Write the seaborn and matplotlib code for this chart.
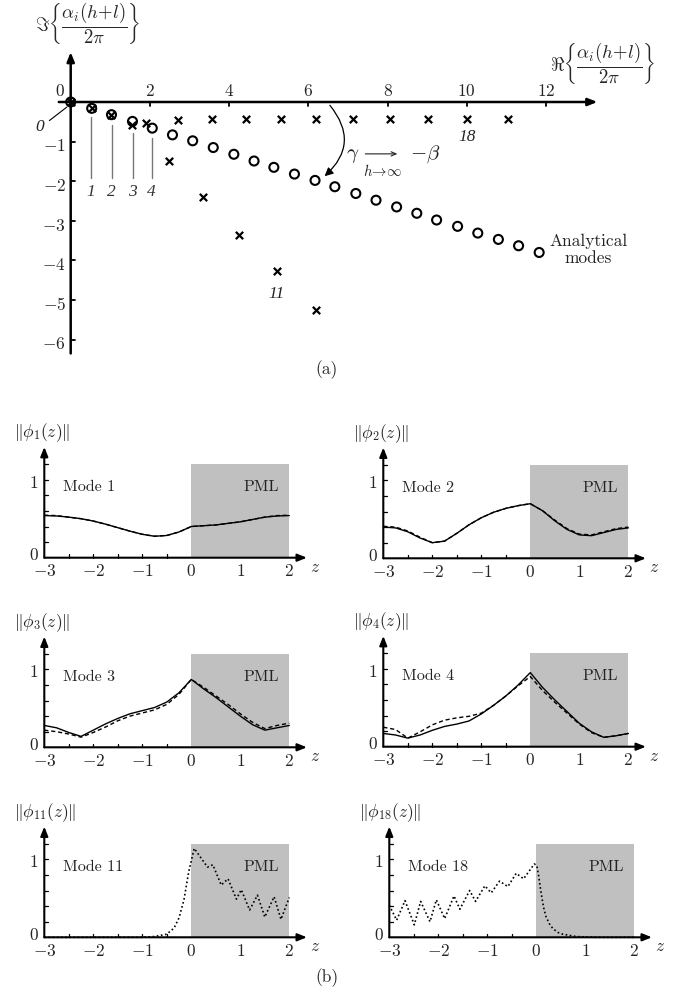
import numpy as np
import matplotlib
matplotlib.use("Agg")
import matplotlib.pyplot as plt
import seaborn as sns
from matplotlib.patches import FancyArrowPatch

# ---------------- (a) eigenvalue plane ----------------
analytic_re = [0.00, 0.53, 1.03, 1.56, 2.06, 2.57, 3.08, 3.60, 4.12, 4.63, 5.13, 5.65,
               6.17, 6.67, 7.20, 7.71, 8.23, 8.74, 9.24, 9.77, 10.28, 10.80, 11.31, 11.83]
analytic_im = [0.00, -0.16, -0.32, -0.49, -0.66, -0.83, -0.98, -1.15, -1.32, -1.49, -1.65, -1.82,
               -1.98, -2.14, -2.31, -2.48, -2.65, -2.81, -2.98, -3.14, -3.31, -3.47, -3.63, -3.80]
numeric_re = [0.00, 0.53, 1.03, 1.56, 1.89, 2.48, 2.72, 3.35, 3.57, 4.26, 4.42, 5.22,
              5.30, 6.19, 6.19, 7.12, 8.06, 9.02, 10.01, 11.04]
numeric_im = [0.00, -0.16, -0.32, -0.59, -0.53, -1.48, -0.45, -2.41, -0.43, -3.35, -0.43, -4.28,
              -0.42, -0.42, -5.26, -0.42, -0.42, -0.42, -0.42, -0.42]
re_ticks = [2, 4, 6, 8, 10, 12]
im_ticks = [-1, -2, -3, -4, -5, -6]
low_mode_labels = ["1", "2", "3", "4"]
low_mode_re = [0.52, 1.04, 1.57, 2.05]
low_mode_line_top = [-0.38, -0.58, -0.78, -0.91]

# ---------------- (b) mode profiles ----------------
z_grid = [-3.0, -2.75, -2.5, -2.25, -2.0, -1.75, -1.5, -1.25, -1.0, -0.75, -0.5, -0.25,
          0.0, 0.25, 0.5, 0.75, 1.0, 1.25, 1.5, 1.75, 2.0]
mode1_solid = [0.54, 0.535, 0.52, 0.50, 0.47, 0.43, 0.385, 0.34, 0.30, 0.275, 0.285, 0.33,
               0.40, 0.41, 0.42, 0.44, 0.46, 0.49, 0.52, 0.535, 0.54]
mode1_dashed = [0.545, 0.54, 0.52, 0.50, 0.47, 0.43, 0.385, 0.34, 0.30, 0.275, 0.285, 0.33,
                0.40, 0.41, 0.42, 0.44, 0.46, 0.49, 0.52, 0.54, 0.545]
mode2_solid = [0.40, 0.39, 0.34, 0.26, 0.20, 0.22, 0.32, 0.43, 0.52, 0.59, 0.64, 0.675,
               0.70, 0.61, 0.48, 0.37, 0.30, 0.29, 0.33, 0.37, 0.39]
mode2_dashed = [0.41, 0.40, 0.35, 0.27, 0.20, 0.22, 0.32, 0.43, 0.52, 0.59, 0.64, 0.675,
                0.70, 0.61, 0.49, 0.38, 0.31, 0.30, 0.34, 0.38, 0.40]
mode3_solid = [0.28, 0.25, 0.19, 0.14, 0.22, 0.30, 0.37, 0.43, 0.47, 0.51, 0.58, 0.70,
               0.87, 0.75, 0.64, 0.52, 0.40, 0.29, 0.22, 0.25, 0.28]
mode3_dashed = [0.22, 0.20, 0.17, 0.13, 0.19, 0.26, 0.34, 0.40, 0.44, 0.48, 0.55, 0.68,
                0.87, 0.77, 0.66, 0.55, 0.43, 0.32, 0.24, 0.28, 0.31]
mode4_solid = [0.17, 0.15, 0.11, 0.15, 0.21, 0.26, 0.29, 0.33, 0.42, 0.53, 0.65, 0.79,
               0.95, 0.76, 0.60, 0.45, 0.30, 0.19, 0.12, 0.14, 0.17]
mode4_dashed = [0.25, 0.22, 0.11, 0.19, 0.28, 0.34, 0.37, 0.39, 0.43, 0.53, 0.65, 0.78,
                0.90, 0.72, 0.57, 0.43, 0.29, 0.18, 0.12, 0.14, 0.17]
mode11_z = [-3.0, -2.0, -1.25, -1.0, -0.75, -0.5, -0.35, -0.25, -0.15, -0.05, 0.06, 0.33,
            0.44, 0.61, 0.75, 0.92, 1.02, 1.19, 1.35, 1.50, 1.69, 1.83, 2.0]
mode11_dotted = [0.0, 0.0, 0.0, 0.0, 0.01, 0.04, 0.12, 0.25, 0.48, 0.85, 1.14, 0.90,
                 0.93, 0.67, 0.75, 0.49, 0.61, 0.35, 0.54, 0.26, 0.52, 0.23, 0.51]
mode18_z = [-3.0, -2.85, -2.68, -2.49, -2.36, -2.17, -2.04, -1.87, -1.68, -1.56, -1.36, -1.24,
            -1.05, -0.92, -0.75, -0.58, -0.41, -0.26, -0.04, 0.01, 0.05, 0.10, 0.15, 0.20,
            0.27, 0.34, 0.45, 0.54, 0.81, 1.2, 2.0]
mode18_dotted = [0.41, 0.22, 0.47, 0.16, 0.46, 0.20, 0.48, 0.24, 0.53, 0.36, 0.60, 0.46,
                 0.66, 0.57, 0.72, 0.65, 0.82, 0.75, 0.94, 0.92, 0.78, 0.56, 0.38, 0.26,
                 0.17, 0.11, 0.06, 0.04, 0.01, 0.0, 0.0]
z_ticks = [-3, -2, -1, 0, 1, 2]

# ---------------- style ----------------
sns.set_style("white")
plt.rcParams["mathtext.fontset"] = "cm"
plt.rcParams["font.family"] = ["cmr10", "DejaVu Serif"]
plt.rcParams["axes.unicode_minus"] = False

W, H = 673, 999
fig = plt.figure(figsize=(W / 100, H / 100), dpi=100)
fig.patch.set_facecolor("white")


def make_axes(px0, py0, sx, sy, xlim, ylim):
    """Axes placed so that data (0, 0) lands on pixel (px0, py0)."""
    left = px0 + xlim[0] * sx
    right = px0 + xlim[1] * sx
    top = py0 - ylim[1] * sy
    bottom = py0 - ylim[0] * sy
    ax = fig.add_axes([left / W, 1 - bottom / H, (right - left) / W, (bottom - top) / H])
    ax.set_xlim(*xlim)
    ax.set_ylim(*ylim)
    ax.axis("off")
    return ax


ARW = dict(arrowstyle="-|>,head_length=0.55,head_width=0.22", color="black",
           shrinkA=0, shrinkB=0)

# ================= panel (a) =================
ax = make_axes(70.7, 102.0, 39.6, 39.6, (-1.5, 15.0), (-6.8, 2.5))
ax.annotate("", xy=(13.3, 0), xytext=(-0.3, 0), arrowprops=dict(ARW, lw=1.8))
ax.annotate("", xy=(0, 1.26), xytext=(0, -6.35), arrowprops=dict(ARW, lw=1.8))
for t in re_ticks:
    ax.plot([t, t], [0, -0.11], color="black", lw=1.3)
    ax.text(t, 0.28, f"${t}$", ha="center", va="center", fontsize=12.5)
ax.text(-0.27, 0.28, "$0$", ha="center", va="center", fontsize=12.5)
for t in im_ticks:
    ax.plot([0, 0.12], [t, t], color="black", lw=1.3)
    ax.text(-0.12, t - 0.12, f"$-{abs(t)}$", ha="right", va="center", fontsize=12.5)

sns.scatterplot(x=analytic_re, y=analytic_im, ax=ax, marker="o", s=42,
                facecolor="none", edgecolor="black", linewidth=1.5, zorder=4)
sns.scatterplot(x=numeric_re, y=numeric_im, ax=ax, marker="x", s=28,
                color="black", linewidth=1.6, zorder=5)

ax.text(-0.90, 1.97, r"$\Im\left\{\dfrac{\alpha_i(h\!+\!l)}{2\pi}\right\}$",
        ha="left", va="center", fontsize=13.5)
ax.text(12.1, 0.96, r"$\Re\left\{\dfrac{\alpha_i(h\!+\!l)}{2\pi}\right\}$",
        ha="left", va="center", fontsize=13.5)

# mode labels
ax.plot([-0.54, -0.1], [-0.47, -0.13], color="black", lw=0.8)
ax.text(-0.78, -0.63, "0", ha="center", va="center", fontsize=12.5,
        family="Liberation Serif", style="italic")
for lab, xr, ytop in zip(low_mode_labels, low_mode_re, low_mode_line_top):
    ax.plot([xr, xr], [ytop, -1.92], color="#777777", lw=1.0)
    ax.text(xr - 0.02, -2.27, lab, ha="center", va="center", fontsize=12.5,
            family="Liberation Serif", style="italic", color="#333333")
ax.text(5.20, -4.84, "11", ha="center", va="center", fontsize=12.5,
        family="Liberation Serif", style="italic")
ax.text(10.0, -0.89, "18", ha="center", va="center", fontsize=12.5,
        family="Liberation Serif", style="italic")

arc = FancyArrowPatch((6.5, -0.03), (6.36, -1.92), connectionstyle="arc3,rad=-0.5",
                      arrowstyle="-|>,head_length=5,head_width=2.5", lw=0.9, color="black")
ax.add_patch(arc)
# gamma -> -beta (limit h -> infinity)
ax.text(7.12, -1.36, r"$\gamma$", ha="center", va="center", fontsize=15, color="#222222")
ax.annotate("", xy=(8.25, -1.31), xytext=(7.44, -1.31),
            arrowprops=dict(arrowstyle="->,head_length=0.35,head_width=0.15",
                            lw=0.8, color="#222222", shrinkA=0, shrinkB=0))
ax.text(7.88, -1.74, r"$h\!\to\!\infty$", ha="center", va="center", fontsize=10.5,
        color="#222222")
ax.text(8.95, -1.31, r"$-\beta$", ha="center", va="center", fontsize=15, color="#222222")
ax.text(13.07, -3.74, "Analytical\nmodes", ha="center", va="center", fontsize=12.5,
        multialignment="center", linespacing=1.1, color="#222222")
fig.text(327 / W, 1 - 370 / H, "(a)", ha="center", va="center", fontsize=12.5)

# ================= panel (b) =================
panels = [
    (44.3, 557.7, "1", [mode1_solid, mode1_dashed], None),
    (383.3, 558.3, "2", [mode2_solid, mode2_dashed], None),
    (44.3, 747.3, "3", [mode3_solid, mode3_dashed], None),
    (383.3, 746.7, "4", [mode4_solid, mode4_dashed], None),
    (44.3, 937.3, "11", None, (mode11_z, mode11_dotted)),
    (389.3, 937.3, "18", None, (mode18_z, mode18_dotted)),
]

for px0, py0, name, pair, dotted in panels:
    bx = make_axes(px0 + 3 * 49.0, py0, 49.0, 78.0, (-3.8, 2.8), (-0.35, 1.75))
    bx.fill_between([0, 2], [0, 0], [1.2, 1.2], color="#c0c0c0", lw=0, zorder=0)
    bx.annotate("", xy=(2.36, 0), xytext=(-3, 0), arrowprops=dict(ARW, lw=1.5))
    bx.annotate("", xy=(-3, 1.42), xytext=(-3, 0), arrowprops=dict(ARW, lw=1.5))
    for yt in [0.2, 0.4, 0.6, 0.8, 1.0, 1.2]:
        bx.plot([-3, -2.93], [yt, yt], color="black", lw=0.9)
    for xt in [-2.5, -2.0, -1.5, -1.0, -0.5]:
        bx.plot([xt, xt], [0, 0.045], color="black", lw=0.9)
    for t in z_ticks:
        bx.text(t, -0.17, f"${t}$" if t >= 0 else f"$-{abs(t)}$", ha="center",
                va="center", fontsize=12.5)
    bx.text(-3.22, 0.03, "$0$", ha="center", va="center", fontsize=12.5)
    bx.text(-3.22, 0.96, "$1$", ha="center", va="center", fontsize=12.5)
    bx.text(2.52, -0.12, "$z$", ha="center", va="center", fontsize=12.5)
    bx.text(-3.62, 1.60, r"$\Vert\phi_{%s}(z)\Vert$" % name, ha="left", va="center",
            fontsize=12.5)
    bx.text(-2.62, 0.90, f"Mode {name}", ha="left", va="center", fontsize=11.5,
            color="#222222")
    bx.text(1.80, 0.90, "PML", ha="right", va="center", fontsize=11.5, color="#222222")
    if pair is not None:
        sns.lineplot(x=z_grid, y=pair[0], ax=bx, color="black", lw=1.0,
                     estimator=None, sort=False, zorder=3)
        sns.lineplot(x=z_grid, y=pair[1], ax=bx, color="black", lw=1.0,
                     linestyle=(0, (3, 2)), estimator=None, sort=False, zorder=3)
    else:
        sns.lineplot(x=dotted[0], y=dotted[1], ax=bx, color="black", lw=1.2,
                     linestyle=(0, (1, 1.5)), estimator=None, sort=False, zorder=3)
    bx.set_xlim(-3.8, 2.8)
    bx.set_ylim(-0.35, 1.75)
    bx.axis("off")

fig.text(327 / W, 1 - 978 / H, "(b)", ha="center", va="center", fontsize=12.5)

fig.savefig("out.png", dpi=100, facecolor="white")
